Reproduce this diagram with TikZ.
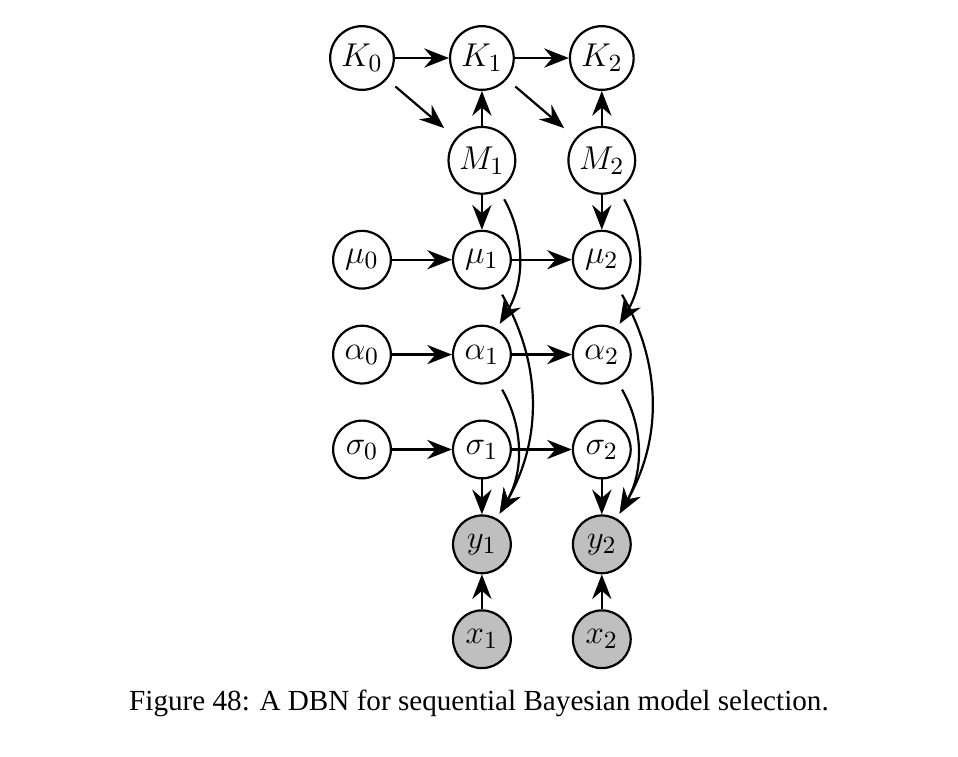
\documentclass[tikz,border=0pt]{standalone}
\usepackage{amsmath}
\usepackage{fontspec}
\setmainfont{Liberation Serif}
\usepackage{tikz}
\usetikzlibrary{
arrows.meta,
matrix,
positioning,
calc
}
\tikzset{
var/.style={circle,draw,thick,inner sep=1.8pt,minimum size=21pt,font=\fontsize{13}{15}\selectfont},
obs/.style={var,fill=gray!50},
diag/.style={shorten <=4pt,shorten >=5.5pt},
arc/.style={bend left=30,shorten <=3.8pt,shorten >=2pt}
}

\begin{document}
\begin{tikzpicture}[x=0.3636pt,y=0.3636pt,thick,>={Stealth[length=9pt,width=7pt,inset=3pt]}]
      \matrix[matrix of math nodes,nodes={var},column sep={43.6pt,between origins},row sep=12.7pt] (s)
      {
      K_0 & K_1 & K_2\\
      & M_1 & M_2\\
      \mu_0 & \mu_1 & \mu_2\\
      \alpha_0 & \alpha_1 & \alpha_2\\
      \sigma_0 & \sigma_1 & \sigma_2\\
      & |[obs]| y_1 & |[obs]| y_2\\
      & |[obs]| x_1 & |[obs]| x_2\\
      };
         \path[->] (s-1-1) edge (s-1-2) (s-1-2) edge (s-1-3);
         \path[->,diag] (s-1-1) edge (s-2-2) (s-1-2) edge (s-2-3);
         \path[->] (s-2-2) edge (s-1-2) (s-2-3) edge (s-1-3);
         \path[->] (s-2-2) edge (s-3-2) (s-2-3) edge (s-3-3);
         \path[->] (s-3-1) edge (s-3-2) (s-3-2) edge (s-3-3);
         \path[->] (s-4-1) edge (s-4-2) (s-4-2) edge (s-4-3);
         \path[->] (s-5-1) edge (s-5-2) (s-5-2) edge (s-5-3);
         \path[->] (s-5-2) edge (s-6-2) (s-5-3) edge (s-6-3);
         \path[->] (s-7-2) edge (s-6-2) (s-7-3) edge (s-6-3);
         % links skipping a row
         \path[->,arc] (s-2-2) edge (s-4-2) (s-3-2) edge (s-6-2) (s-4-2) edge (s-6-2);
         \path[->,arc] (s-2-3) edge (s-4-3) (s-3-3) edge (s-6-3) (s-4-3) edge (s-6-3);
      \node[anchor=base,font=\fontsize{10.6}{13}\selectfont] (cap) at ($(s-1-1.center)+(117,-652)$) {Figure 48: A DBN for sequential Bayesian model selection.};
      \useasboundingbox ($(s-1-1.center)+(-362,58)$) rectangle ++(958,-756);
    \end{tikzpicture}
\end{document}
